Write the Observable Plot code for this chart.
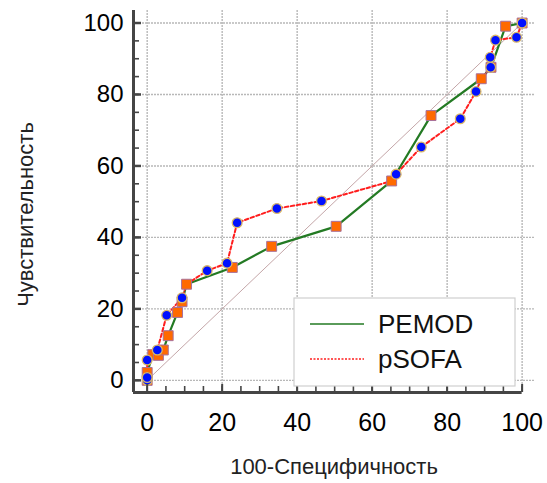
<!DOCTYPE html>
<html><head><meta charset="utf-8">
<script src="https://cdn.jsdelivr.net/npm/d3@7"></script>
<script src="https://cdn.jsdelivr.net/npm/@observablehq/plot@0.6"></script>
<style>
body{margin:0;background:#fff;font-family:"Liberation Sans",Arial,sans-serif}
#chart{position:relative;width:547px;height:483px}
</style>
</head><body><div id="chart"></div>
<script>
// ---- data ----
const seriesNames = ["PEMOD", "pSOFA"];
const pemodX = [0, 0, 1.5, 3, 4.3, 5.6, 8.1, 9.3, 10.5, 22.7, 33.2, 50.4, 65.2, 75.7, 89.1, 91.7, 95.6, 100];
const pemodY = [0, 2.2, 7.2, 7.0, 8.5, 12.5, 19.0, 22.0, 26.9, 31.6, 37.5, 43.1, 55.8, 74.1, 84.4, 87.6, 99.1, 100];
const psofaX = [0, 0, 0, 1.5, 2.7, 5.2, 9.3, 10.5, 16.0, 21.3, 24.0, 34.6, 46.5, 65.3, 66.4, 73.1, 83.5, 87.7, 89.1, 91.6, 91.5, 92.9, 98.5, 100];
const psofaY = [0, 0.8, 5.7, 7.3, 8.5, 18.2, 23.1, 26.9, 30.7, 32.8, 44.1, 48.1, 50.2, 55.8, 57.7, 65.3, 73.2, 80.8, 84.4, 87.6, 90.4, 95.2, 96.0, 100];
const psofaMarkX = [0, 0, 0, 2.7, 5.2, 9.3, 16.0, 21.3, 24.0, 34.6, 46.5, 66.4, 73.1, 83.5, 87.7, 91.6, 91.5, 92.9, 98.5, 100];
const psofaMarkY = [0, 0.8, 5.7, 8.5, 18.2, 23.1, 30.7, 32.8, 44.1, 48.1, 50.2, 57.7, 65.3, 73.2, 80.8, 87.6, 90.4, 95.2, 96.0, 100];
const diagX = [0, 100];
const diagY = [0, 100];
const majorTicks = [0, 20, 40, 60, 80, 100];
const minorTicks = [0, 5, 10, 15, 20, 25, 30, 35, 40, 45, 50, 55, 60, 65, 70, 75, 80, 85, 90, 95, 100];
const xTitle = "100-Специфичность";
const yTitle = "Чувствительность";
const xDomain = [-3.65, 103.3];
const yDomain = [-3.4, 103.5];

// ---- build ----
const pemod = pemodX.map((x, i) => ({x, y: pemodY[i]}));
const psofa = psofaX.map((x, i) => ({x, y: psofaY[i]}));
const psofaMarks = psofaMarkX.map((x, i) => ({x, y: psofaMarkY[i]}));
const diag = diagX.map((x, i) => ({x, y: diagY[i]}));

const axisColor = "#454545";
const font = "Liberation Sans, Arial, sans-serif";

const plot = Plot.plot({
  width: 547, height: 483,
  marginLeft: 133, marginRight: 13, marginTop: 10, marginBottom: 91,
  x: {domain: xDomain},
  y: {domain: yDomain},
  style: {fontFamily: font, background: "white", color: "#000", overflow: "visible"},
  marks: [
    Plot.gridX(majorTicks, {stroke: "#b8b8b8", strokeOpacity: 1, strokeWidth: 1.4, strokeDasharray: "2,1"}),
    Plot.gridY(majorTicks, {stroke: "#b8b8b8", strokeOpacity: 1, strokeWidth: 1.4, strokeDasharray: "2,1"}),
    Plot.line(diag, {x: "x", y: "y", stroke: "#c4a6a8", strokeWidth: 1}),
    Plot.line(pemod, {x: "x", y: "y", stroke: "#237a23", strokeWidth: 2.2}),
    Plot.line(psofa, {x: "x", y: "y", stroke: "#ff1e1e", strokeWidth: 2, strokeDasharray: "3.5,2.5"}),
    Plot.dot(pemod, {x: "x", y: "y", symbol: "square", r: 5.6, fill: "#ff6a00", stroke: "#a8709a", strokeWidth: 1}),
    Plot.dot(psofaMarks, {x: "x", y: "y", r: 4.9, fill: "#0010ff", stroke: "#d9b86a", strokeWidth: 1.3}),
    // axis lines
    Plot.ruleX([xDomain[0]], {stroke: axisColor, strokeWidth: 3}),
    Plot.ruleY([yDomain[0]], {x1: xDomain[0], x2: 100, stroke: axisColor, strokeWidth: 3}),
    // ticks (inward)
    Plot.axisX(minorTicks, {tickSize: -6, tickFormat: () => "", stroke: axisColor, strokeWidth: 1.6, label: null}),
    Plot.axisX(majorTicks, {tickSize: -8, tickFormat: () => "", stroke: axisColor, strokeWidth: 2, label: null}),
    Plot.axisY(minorTicks, {tickSize: -6, tickFormat: () => "", stroke: axisColor, strokeWidth: 1.6, label: null}),
    Plot.axisY(majorTicks, {tickSize: -8, tickFormat: () => "", stroke: axisColor, strokeWidth: 2.5, label: null}),
    // tick labels
    Plot.axisX(majorTicks, {tickSize: 0, tickPadding: 21, fontSize: 25, fill: "#000", label: null}),
    Plot.axisY(majorTicks, {tickSize: 0, tickPadding: 10, fontSize: 24, fill: "#000", label: null}),
    // titles
    Plot.text([xTitle], {frameAnchor: "bottom", dy: 81, fontSize: 22, fill: "#222"}),
    Plot.text([yTitle], {frameAnchor: "left", textAnchor: "middle", dx: -108, dy: 13, rotate: -90, fontSize: 22, fill: "#222"})
  ]
});
document.getElementById("chart").append(plot);

// ---- legend (inside the plot, bottom right) ----
const svg = d3.select(plot);
const lg = svg.append("g").attr("transform", "translate(294,298)");
lg.append("rect").attr("width", 221).attr("height", 88).attr("fill", "#fff").attr("stroke", "#cfcfcf").attr("stroke-width", 1.2);
const legendStyles = [
  {stroke: "#237a23", dash: null},
  {stroke: "#ff1e1e", dash: "2,1.5"}
];
seriesNames.forEach((name, i) => {
  const y = 26 + i * 35;
  lg.append("line").attr("x1", 16).attr("x2", 70).attr("y1", y).attr("y2", y)
    .attr("stroke", legendStyles[i].stroke).attr("stroke-width", 1.6)
    .attr("stroke-dasharray", legendStyles[i].dash);
  lg.append("text").attr("x", 84).attr("y", y).attr("dy", "0.36em")
    .attr("text-anchor", "start")
    .attr("font-size", 26).attr("font-family", font).attr("fill", "#111").text(name);
});
</script>
</body></html>
